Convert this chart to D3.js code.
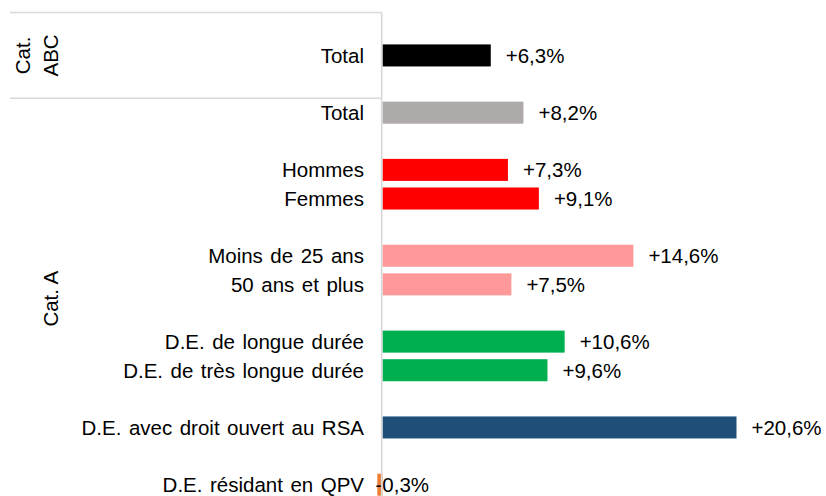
<!DOCTYPE html>
<html>
<head>
<meta charset="utf-8">
<script src="https://cdn.jsdelivr.net/npm/d3@7"></script>
<style>
  body { margin: 0; background: #fff; }
  text { font-family: "Liberation Sans", Arial, sans-serif; fill: #000; }
</style>
</head>
<body>
<script>
// categories, one per slot ("" = empty slot between groups)
var categories = ["", "Total", "", "Total", "", "Hommes", "Femmes", "", "Moins de 25 ans", "50 ans et plus", "",
  "D.E. de longue durée", "D.E. de très longue durée", "", "D.E. avec droit ouvert au RSA", "", "D.E. résidant en QPV"];
var values = [null, 6.3, null, 8.2, null, 7.3, 9.1, null, 14.6, 7.5, null, 10.6, 9.6, null, 20.6, null, -0.3];
var barColors = [null, "#000000", null, "#AEAAAA", null, "#FF0000", "#FF0000", null, "#FF9999", "#FF9999", null,
  "#00B050", "#00B050", null, "#1F4E79", null, "#ED7D31"];
// outer group labels: first and last slot of each group
var groupNames = [["Cat.", "ABC"], ["Cat. A"]];
var groupStart = [0, 3];
var groupEnd = [2, 16];

var width = 826, height = 496;
var fontSize = 20.5;

var svg = d3.select("body").append("svg")
  .attr("width", width)
  .attr("height", height);

var y = d3.scaleBand()
  .domain(d3.range(categories.length))
  .range([12.5, 499])
  .paddingInner(0.23)
  .paddingOuter(0.115);

var x = d3.scaleLinear()
  .domain([0, 20.6])
  .range([382.5, 736.5]);

var fr = d3.formatLocale({decimal: ",", thousands: " ", grouping: [3], currency: ["", " €"], minus: "-"});
var fmt = fr.format("+.1f");

var rows = d3.range(categories.length).filter(function(i) { return values[i] !== null; });

//bars
svg.append("g").selectAll("rect")
  .data(rows)
  .enter()
  .append("rect")
  .attr("x", function(i) { return x(Math.min(0, values[i])); })
  .attr("y", function(i) { return y(i); })
  .attr("width", function(i) { return Math.abs(x(values[i]) - x(0)); })
  .attr("height", y.bandwidth())
  .attr("fill", function(i) { return barColors[i]; });

//value labels
svg.append("g").selectAll("text")
  .data(rows)
  .enter()
  .append("text")
  .attr("x", function(i) { return values[i] >= 0 ? x(values[i]) + 15 : x(0) - 7; })
  .attr("y", function(i) { return y(i) + y.bandwidth() / 2; })
  .attr("dy", "0.36em")
  .attr("font-size", fontSize)
  .text(function(i) { return fmt(values[i]) + "%"; });

//category labels
svg.append("g").selectAll("text")
  .data(rows)
  .enter()
  .append("text")
  .attr("x", 364)
  .attr("y", function(i) { return y(i) + y.bandwidth() / 2; })
  .attr("dy", "0.36em")
  .attr("text-anchor", "end")
  .attr("font-size", fontSize)
  .attr("word-spacing", 1.8)
  .text(function(i) { return categories[i]; });

//group separators and axis line
var yTop = y.range()[0];
var yBottom = y.range()[1];
var axisColor = "#D9D9D9";
function slotEdge(i) { return yTop + i * y.step(); }

svg.append("line")
  .attr("x1", 10).attr("x2", 382)
  .attr("y1", yTop).attr("y2", yTop)
  .attr("stroke", axisColor).attr("stroke-width", 1.5);
for (var g = 0; g < groupNames.length - 1; g++) {
  var yy = slotEdge(groupEnd[g] + 1);
  svg.append("line")
    .attr("x1", 10).attr("x2", 382)
    .attr("y1", yy).attr("y2", yy)
    .attr("stroke", axisColor).attr("stroke-width", 1.5);
}
svg.append("line")
  .attr("x1", 381.7).attr("x2", 381.7)
  .attr("y1", yTop).attr("y2", yBottom)
  .attr("stroke", axisColor).attr("stroke-width", 1.7);

//group labels (rotated)
for (var g = 0; g < groupNames.length; g++) {
  var cy = (slotEdge(groupStart[g]) + slotEdge(groupEnd[g] + 1)) / 2;
  var lines = groupNames[g];
  var lineH = 28;
  var lastBase = 57.5;
  var t = svg.append("text")
    .attr("transform", "translate(0," + cy + ") rotate(-90)")
    .attr("text-anchor", "middle")
    .attr("font-size", fontSize);
  lines.forEach(function(s, k) {
    t.append("tspan")
      .attr("x", 0)
      .attr("y", lastBase - (lines.length - 1 - k) * lineH)
      .text(s);
  });
}
</script>
</body>
</html>
